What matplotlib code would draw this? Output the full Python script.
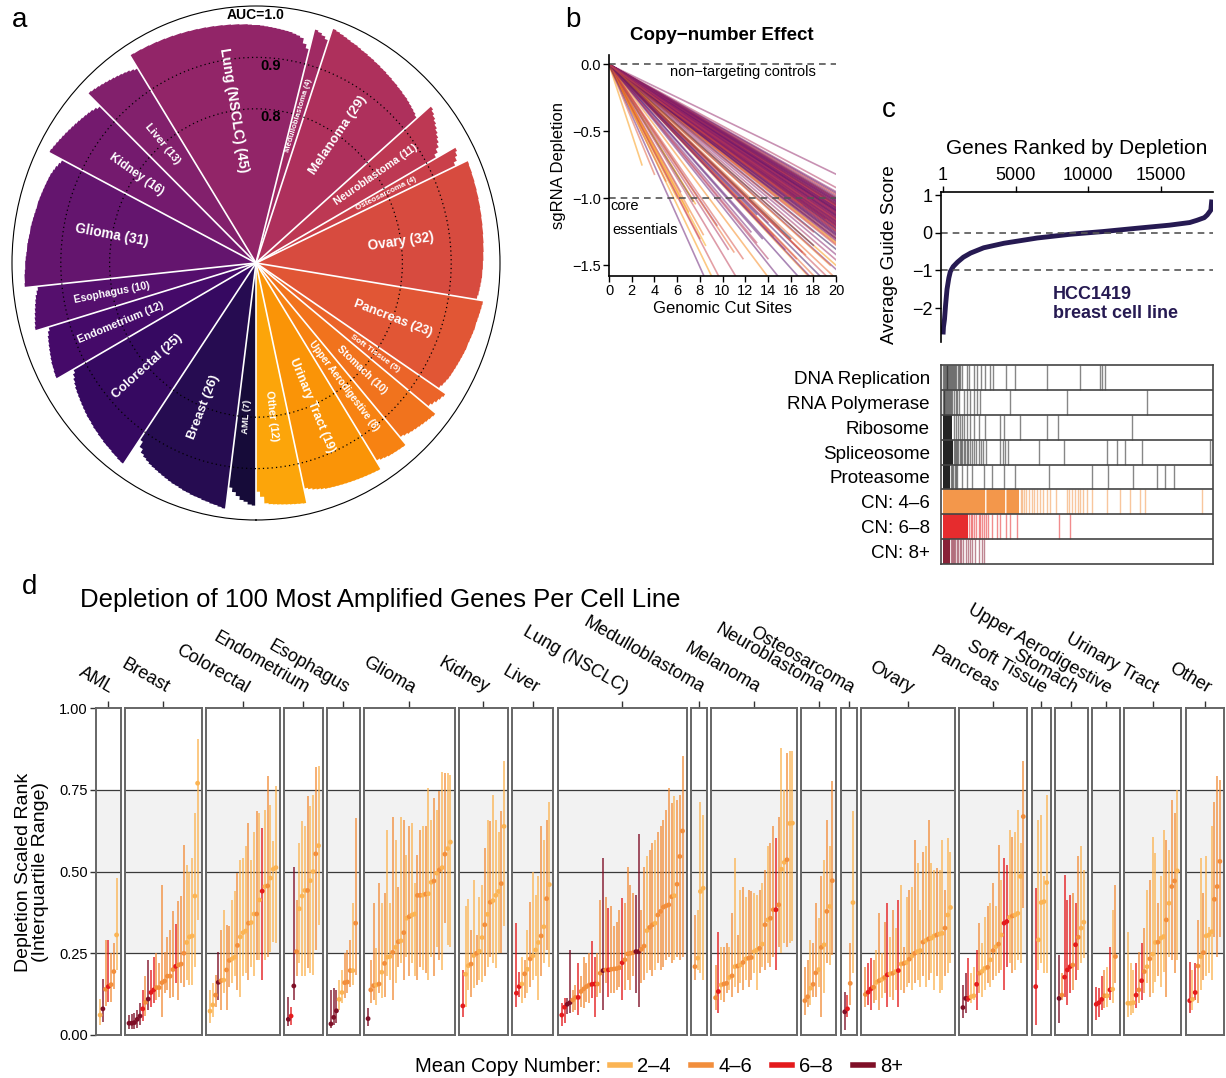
import numpy as np
import matplotlib
matplotlib.use('Agg')
from matplotlib import pyplot as plt
from matplotlib.lines import Line2D

plt.rcParams['font.family'] = ['Liberation Sans', 'DejaVu Sans']
plt.rcParams['axes.unicode_minus'] = True

W, H = 1226, 1078

# ---------------- shared: cancer types ----------------
types = ['AML', 'Breast', 'Colorectal', 'Endometrium', 'Esophagus', 'Glioma', 'Kidney', 'Liver',
         'Lung (NSCLC)', 'Medulloblastoma', 'Melanoma', 'Neuroblastoma', 'Osteosarcoma', 'Ovary',
         'Pancreas', 'Soft Tissue', 'Stomach', 'Upper Aerodigestive', 'Urinary Tract', 'Other']
counts = [7, 26, 25, 12, 10, 31, 16, 13, 45, 4, 29, 11, 4, 32, 23, 5, 10, 8, 19, 12]

# ---------------- panel a: AUC per cell line (sorted within type) ----------------
auc_aml = [.972, .97, .965, .962, .955, .948, .94]
auc_breast = [.982, .98, .978, .977, .975, .974, .972, .971, .97, .968, .967, .965, .963, .962, .96,
              .958, .956, .954, .952, .95, .948, .945, .942, .938, .93, .918]
auc_colorectal = [.976, .975, .973, .972, .97, .969, .968, .966, .965, .963, .962, .96, .958, .957,
                  .955, .953, .951, .949, .947, .945, .943, .94, .937, .933, .928]
auc_endometrium = [.966, .965, .963, .962, .96, .958, .956, .954, .952, .95, .947, .943]
auc_esophagus = [.97, .968, .966, .964, .962, .96, .958, .956, .953, .95]
auc_glioma = [.976, .975, .975, .974, .973, .973, .972, .971, .97, .97, .969, .968, .967, .967, .966,
              .965, .964, .963, .962, .962, .961, .96, .959, .958, .957, .956, .955, .953, .951, .948, .945]
auc_kidney = [.975, .973, .971, .969, .967, .965, .963, .961, .959, .957, .955, .953, .951, .949, .946, .942]
auc_liver = [.976, .974, .972, .97, .968, .966, .964, .962, .96, .958, .956, .953, .95]
auc_lung = [.979, .978, .978, .977, .977, .976, .976, .975, .975, .974, .974, .973, .973, .972, .972,
            .971, .971, .97, .97, .969, .969, .968, .968, .967, .967, .966, .966, .965, .965, .964,
            .963, .963, .962, .961, .96, .959, .958, .957, .956, .955, .953, .951, .948, .938, .93]
auc_medullo = [.97, .967, .963, .958]
auc_melanoma = [.982, .98, .978, .976, .974, .972, .971, .969, .967, .966, .964, .963, .961, .96, .958,
                .957, .955, .954, .952, .951, .949, .948, .946, .945, .943, .941, .939, .937, .934]
auc_neuro = [.97, .966, .962, .958, .954, .95, .946, .942, .937, .93, .922]
auc_osteo = [.966, .962, .957, .95]
auc_ovary = [.977, .976, .976, .975, .975, .974, .974, .973, .973, .972, .972, .971, .971, .97, .97,
             .969, .969, .968, .968, .967, .967, .966, .966, .965, .965, .964, .964, .963, .962, .961, .96, .958]
auc_pancreas = [.971, .97, .969, .968, .967, .966, .966, .965, .964, .963, .962, .962, .961, .96, .959,
                .958, .957, .956, .955, .954, .952, .95, .947]
auc_soft = [.964, .961, .958, .954, .95]
auc_stomach = [.97, .968, .966, .964, .962, .96, .958, .956, .953, .95]
auc_upper = [.968, .967, .966, .965, .964, .962, .96, .957]
auc_urinary = [.975, .974, .973, .972, .971, .97, .969, .968, .967, .966, .965, .964, .963, .962, .96,
               .958, .956, .953, .95]
auc_other = [.978, .977, .976, .975, .974, .973, .972, .971, .97, .968, .955, .945]
auc_all = [auc_aml, auc_breast, auc_colorectal, auc_endometrium, auc_esophagus, auc_glioma, auc_kidney,
           auc_liver, auc_lung, auc_medullo, auc_melanoma, auc_neuro, auc_osteo, auc_ovary, auc_pancreas,
           auc_soft, auc_stomach, auc_upper, auc_urinary, auc_other]

# ---------------- panel b: depletion vs cut sites (line end points) ----------------
b_x_end = [20] * 105 + [2.9, 4.0, 5.0, 6.0, 6.3, 7.0, 7.4, 7.6, 8.0, 8.3,
                        8.5, 9.5, 10.5, 11.0, 11.8, 12.5, 13.0, 13.5, 14.0, 14.5,
                        15.0, 15.5, 16.0, 16.5, 17.0, 17.3, 18.0, 19.0, 19.5, 12.0,
                        11.0, 10.0, 9.0, 16.0, 15.0, 14.0, 13.0, 18.0, 19.0, 17.0]
b_y_end = [-0.82, -0.92, -0.97, -0.99, -1.0, -1.01, -1.02, -1.03, -1.04, -1.05,
           -1.05, -1.06, -1.07, -1.08, -1.08, -1.09, -1.1, -1.1, -1.11, -1.12,
           -1.13, -1.14, -1.15, -1.16, -1.17, -1.18, -1.19, -1.2, -1.21, -1.22,
           -1.23, -1.24, -1.25, -1.27, -1.28, -1.3, -1.32, -1.33, -1.35, -1.46,
           -1.53, -1.6, -1.7, -1.8, -1.9,
           -0.95, -0.96, -0.98, -1.0, -1.01, -1.02, -1.03, -1.04, -1.05, -1.06,
           -1.06, -1.07, -1.08, -1.09, -1.1, -1.11, -1.12, -1.12, -1.13, -1.14,
           -1.15, -1.16, -1.17, -1.18, -1.19, -1.2, -1.21, -1.22, -1.23, -1.24,
           -1.26, -1.27, -1.29, -1.31, -1.34, -1.38, -1.42, -1.5, -1.65, -1.75,
           -1.04, -1.08, -1.1, -1.13, -1.15, -1.17, -1.19, -1.21, -1.25, -1.3,
           -1.0, -1.02, -1.05, -1.07, -1.09, -1.11, -1.14, -1.16, -1.18, -1.2,
           -0.75, -0.82, -0.87, -1.0, -0.95, -1.1, -1.02, -1.04, -1.3, -1.27,
           -1.35, -1.2, -1.38, -1.4, -1.45, -1.25, -1.33, -1.3, -1.45, -1.28,
           -1.7, -1.38, -1.7, -1.45, -1.4, -1.42, -1.35, -1.7, -1.5, -1.7,
           -1.8, -1.75, -1.7, -1.3, -1.22, -1.18, -1.12, -1.25, -1.15, -1.05]
b_type = [8, 10, 13, 3, 17, 5, 8, 1, 14, 19, 6, 10, 2, 8, 12, 15, 4, 8, 9, 13,
          0, 10, 6, 14, 2, 8, 18, 11, 5, 13, 1, 16, 7, 10, 3, 14, 8, 19, 12, 9,
          6, 15, 2, 17, 4,
          8, 5, 10, 6, 7, 9, 8, 11, 5, 10, 13, 6, 8, 3, 7, 10, 9, 5, 8, 11,
          6, 10, 8, 4, 7, 9, 13, 5, 8, 10, 2, 6, 11, 8, 14, 1, 7, 18, 12, 15,
          5, 8, 10, 6, 9, 7, 8, 11, 10, 3, 8, 6, 10, 7, 5, 9, 8, 11, 10, 6,
          18, 14, 12, 19, 10, 17, 0, 18, 13, 16, 19, 8, 10, 15, 13, 6, 11, 4, 10, 14,
          17, 8, 5, 13, 9, 15, 2, 6, 16, 11, 12, 18, 5, 0, 14, 10, 3, 12, 7, 13]

# ---------------- panel c: ranked guide scores and gene-set barcodes ----------------
c_rank = [1, 30, 100, 180, 275, 400, 505, 700, 1000, 1400, 1900, 2800, 4200, 6500, 8800, 11000,
          13400, 15600, 17000, 17500, 18000, 18200, 18450, 18520]
c_score = [-2.7, -2.5, -2.3, -1.9, -1.5, -1.2, -1.03, -0.9, -0.78, -0.65, -0.54, -0.4, -0.28, -0.14,
           -0.04, 0.03, 0.12, 0.2, 0.27, 0.33, 0.4, 0.47, 0.6, 0.88]

track_names = ['DNA Replication', 'RNA Polymerase', 'Ribosome', 'Spliceosome', 'Proteasome',
               'CN: 4–6', 'CN: 6–8', 'CN: 8+']
dna_spans = []
dna_hits = [10, 60, 120, 180, 240, 300, 350, 420, 480, 560, 640, 700, 780, 850, 920, 1000, 1100, 1200,
            1300, 1650, 1810, 2110, 2340, 2610, 2910, 3260, 3440, 4340, 4980, 7160, 9450, 10830, 10940, 11130]
rnapol_spans = []
rnapol_hits = [0, 40, 90, 150, 200, 260, 330, 400, 470, 560, 650, 740, 860, 980, 1100, 1420, 1650, 1880,
               2160, 2340, 2570, 4630, 8540, 14040]
ribo_spans = [(0, 650)]
ribo_hits = [730, 870, 1010, 1150, 1310, 1470, 1650, 1880, 2160, 2450, 2910, 3950, 4180, 5320, 7160,
             7890, 13010]
splice_spans = [(0, 700)]
splice_hits = [760, 830, 900, 980, 1060, 1140, 1230, 1320, 1420, 1520, 1620, 1720, 1850, 2000, 2150,
               2300, 2450, 2600, 2750, 2950, 3950, 4110, 4290, 4450, 6590, 8310, 11290, 11980, 12550,
               13700, 18360]
prot_spans = [(0, 480)]
prot_hits = [560, 640, 720, 800, 900, 970, 1310, 1650, 2000, 2800, 3370, 4180, 4980, 7270, 10260,
             11400, 13120, 14730, 15300, 15880]
cn46_spans = [(0, 2900), (3000, 4300), (4420, 5250)]
cn46_hits = [2950, 4360, 5350, 5450, 5550, 5700, 5900, 6100, 6300, 6500, 6650, 6900, 7150, 7400,
             7800, 8550, 8700, 8900, 9100, 9300, 9450, 9650, 9900, 10250, 11290, 12200, 12900, 13580,
             13930, 17830]
cn68_spans = [(0, 1700)]
cn68_hits = [1800, 1900, 2000, 2100, 2250, 2450, 2570, 2700, 2800, 2950, 3100, 3400, 3700, 3950, 4330,
             4630, 5100, 7960, 8760]
cn8_spans = [(0, 450)]
cn8_hits = [520, 600, 680, 760, 850, 950, 1050, 1150, 1250, 1400, 1550, 1700, 1850, 2000, 2200, 2450,
            2700, 2850]

# ---------------- panel d: scaled rank (median, IQR) and copy-number class ----------------
# cn class: 1 = 2-4, 2 = 4-6, 3 = 6-8, 4 = 8+
aml_med = [.061, .08, .14, .148, .154, .194, .306]
aml_lo = [.03, .04, .09, .10, .10, .14, .20]
aml_hi = [.11, .17, .29, .29, .25, .28, .48]
aml_cn = '1423221'
breast_med = [.036, .036, .038, .048, .058, .08, .10, .11, .13, .138, .145, .145, .16, .165, .18, .18,
              .20, .21, .214, .217, .25, .283, .30, .303, .425, .77]
breast_lo = [.017, .017, .017, .02, .03, .044, .058, .077, .087, .097, .107, .117, .056, .128, .138,
             .112, .117, .158, .107, .158, .148, .168, .153, .153, .209, .352]
breast_hi = [.06, .063, .066, .077, .097, .138, .18, .23, .20, .24, .25, .22, .46, .255, .30, .32, .38,
             .34, .41, .425, .58, .52, .50, .54, .68, .905]
breast_cn = '44444324332222222322211111'
colorectal_med = [.073, .092, .122, .161, .166, .168, .199, .228, .233, .238, .274, .30, .313, .318,
                  .342, .344, .37, .37, .413, .44, .454, .456, .48, .507, .512]
colorectal_lo = [.036, .056, .087, .107, .077, .128, .077, .148, .158, .179, .138, .117, .179, .189,
                 .168, .209, .179, .23, .23, .168, .23, .24, .255, .283, .281]
colorectal_hi = [.138, .158, .184, .255, .32, .383, .337, .332, .413, .439, .495, .536, .541, .577,
                 .648, .536, .622, .684, .679, .633, .689, .793, .704, .592, .762]
colorectal_cn = '1124212211211121121312111'
endometrium_med = [.048, .058, .15, .255, .386, .425, .442, .442, .472, .50, .554, .579]
endometrium_lo = [.026, .031, .107, .179, .219, .179, .179, .204, .189, .184, .26, .337]
endometrium_hi = [.117, .087, .515, .413, .587, .653, .638, .73, .699, .735, .821, .823]
endometrium_cn = '434211121121'
esophagus_med = [.034, .054, .074, .109, .13, .16, .162, .197, .197, .342]
esophagus_lo = [.02, .031, .036, .077, .097, .112, .128, .148, .153, .184]
esophagus_hi = [.138, .143, .138, .168, .199, .25, .26, .291, .403, .663]
esophagus_cn = '4441122212'
glioma_med = [.05, .138, .151, .153, .156, .192, .219, .238, .24, .253, .268, .285, .288, .313, .357,
              .362, .367, .37, .427, .427, .428, .431, .432, .467, .471, .495, .505, .512, .553, .57, .59]
glioma_lo = [.026, .097, .107, .092, .128, .112, .117, .179, .168, .107, .158, .209, .219, .168, .24,
             .179, .219, .179, .168, .209, .199, .189, .168, .24, .179, .27, .23, .199, .342, .276, .27]
glioma_hi = [.082, .23, .403, .265, .464, .403, .434, .628, .403, .668, .597, .454, .668, .658, .551,
             .638, .648, .464, .551, .628, .638, .64, .755, .658, .724, .689, .745, .803, .801, .801, .796]
glioma_cn = '4221212112121212112212112121211'
kidney_med = [.089, .186, .212, .217, .243, .25, .256, .298, .337, .369, .406, .411, .427, .439, .463, .638]
kidney_lo = [.054, .087, .138, .117, .143, .153, .168, .163, .179, .209, .24, .219, .204, .25, .25, .332]
kidney_hi = [.199, .393, .415, .321, .474, .306, .423, .459, .571, .658, .653, .735, .658, .622, .684, .837]
kidney_cn = '3112121121211121'
liver_med = [.128, .148, .156, .187, .201, .233, .242, .26, .283, .303, .331, .417, .46]
liver_lo = [.087, .117, .097, .112, .128, .148, .168, .179, .107, .179, .219, .26, .209]
liver_hi = [.342, .194, .24, .23, .321, .408, .50, .429, .485, .638, .597, .658, .714]
liver_cn = '3312121112121'
lung_med = [.061, .085, .094, .099, .107, .115, .115, .133, .141, .148, .153, .155, .156, .156, .189,
            .197, .199, .199, .201, .202, .203, .206, .221, .23, .248, .25, .252, .255, .255, .262,
            .272, .319, .329, .337, .342, .367, .378, .391, .395, .398, .423, .426, .461, .546, .624]
lung_lo = [.028, .036, .064, .066, .071, .077, .061, .087, .082, .102, .097, .112, .056, .117, .128,
           .077, .158, .117, .128, .128, .138, .148, .107, .138, .168, .138, .179, .128, .087, .158,
           .168, .189, .199, .179, .199, .219, .199, .209, .23, .24, .219, .23, .24, .23, .24]
lung_hi = [.097, .112, .112, .26, .138, .153, .219, .179, .24, .219, .25, .286, .24, .25, .413,
           .541, .423, .388, .393, .332, .347, .383, .418, .403, .515, .459, .434, .429, .615, .383,
           .515, .546, .566, .587, .597, .622, .638, .658, .689, .755, .709, .73, .719, .735, .854]
lung_cn = '334422322223322423222232222442212212222221222'
medullo_med = [.209, .235, .439, .449]
medullo_lo = [.168, .199, .189, .168]
medullo_hi = [.367, .383, .712, .673]
medullo_cn = '2111'
melanoma_med = [.114, .133, .153, .156, .158, .176, .181, .209, .211, .214, .222, .233, .235, .237,
                .255, .26, .265, .278, .337, .352, .357, .383, .383, .398, .507, .528, .536, .647, .648]
melanoma_lo = [.077, .066, .107, .102, .128, .138, .117, .148, .128, .158, .138, .168, .148, .168,
               .189, .138, .189, .209, .199, .219, .209, .24, .199, .27, .25, .281, .27, .281, .286]
melanoma_hi = [.214, .316, .27, .27, .281, .27, .372, .541, .306, .444, .454, .423, .444, .439, .434,
               .429, .444, .464, .505, .577, .587, .638, .602, .668, .878, .75, .862, .867, .867]
melanoma_cn = '23122121212122112121223211211'
neuro_med = [.105, .117, .143, .155, .19, .2, .268, .276, .378, .393, .472]
neuro_lo = [.061, .087, .092, .117, .117, .148, .056, .128, .219, .214, .245]
neuro_hi = [.209, .23, .291, .281, .403, .357, .485, .536, .658, .577, .776]
neuro_cn = '22122121212'
osteo_med = [.071, .08, .158, .405]
osteo_lo = [.015, .056, .092, .189]
osteo_hi = [.133, .122, .281, .684]
osteo_cn = '4321'
ovary_med = [.124, .131, .141, .146, .161, .166, .17, .176, .184, .187, .189, .194, .197, .217, .219,
             .222, .232, .242, .25, .255, .258, .284, .289, .294, .296, .303, .306, .309, .311, .327, .367, .39]
ovary_lo = [.087, .092, .077, .097, .107, .077, .112, .128, .087, .117, .107, .138, .087, .138, .128,
            .148, .158, .138, .158, .168, .148, .179, .148, .168, .189, .138, .179, .128, .138, .179, .189, .219]
ovary_hi = [.209, .219, .235, .23, .26, .372, .25, .347, .403, .301, .383, .327, .413, .459, .27,
            .423, .444, .454, .597, .526, .383, .561, .577, .658, .526, .505, .51, .505, .597, .444, .602, .561]
ovary_cn = '23321212312131212121121211211211'
pancreas_med = [.084, .112, .112, .117, .12, .155, .189, .195, .204, .207, .23, .258, .27, .278, .306,
                .342, .347, .36, .364, .367, .372, .485, .668]
pancreas_lo = [.051, .066, .102, .097, .107, .077, .128, .117, .138, .158, .148, .168, .179, .189, .199,
               .138, .209, .219, .189, .199, .23, .219, .388]
pancreas_hi = [.153, .189, .235, .189, .209, .26, .342, .281, .362, .393, .403, .464, .393, .582, .474,
               .541, .52, .628, .607, .622, .689, .587, .837]
pancreas_cn = '44311321121212133121112'
soft_med = [.148, .291, .405, .408, .466]
soft_lo = [.031, .199, .219, .189, .189]
soft_hi = [.449, .658, .673, .485, .735]
soft_cn = '31111'
stomach_med = [.112, .122, .177, .199, .209, .214, .276, .299, .327, .345]
stomach_lo = [.036, .107, .117, .092, .128, .138, .168, .199, .219, .235]
stomach_hi = [.245, .189, .49, .413, .429, .434, .403, .546, .577, .505]
stomach_cn = '4233323211'
upper_med = [.094, .099, .109, .12, .12, .138, .14, .24]
upper_lo = [.046, .056, .077, .082, .087, .107, .097, .158]
upper_hi = [.148, .143, .179, .199, .209, .27, .383, .459]
upper_cn = '33321312'
urinary_med = [.097, .097, .099, .122, .138, .166, .194, .209, .233, .247, .283, .284, .296, .301,
               .352, .403, .454, .471, .502]
urinary_lo = [.056, .061, .066, .082, .097, .107, .128, .158, .117, .128, .163, .179, .148, .194,
              .117, .24, .23, .189, .23]
urinary_hi = [.316, .219, .199, .219, .255, .281, .327, .444, .474, .607, .556, .403, .485, .628,
              .597, .566, .719, .679, .75]
urinary_cn = '1113232121121121221'
other_med = [.105, .109, .13, .211, .24, .252, .303, .306, .316, .415, .454, .531]
other_lo = [.066, .077, .107, .097, .138, .168, .179, .189, .168, .301, .24, .301]
other_hi = [.224, .199, .219, .352, .541, .434, .546, .33, .638, .714, .791, .781]
other_cn = '313212111222'

d_med = [aml_med, breast_med, colorectal_med, endometrium_med, esophagus_med, glioma_med, kidney_med,
         liver_med, lung_med, medullo_med, melanoma_med, neuro_med, osteo_med, ovary_med, pancreas_med,
         soft_med, stomach_med, upper_med, urinary_med, other_med]
d_lo = [aml_lo, breast_lo, colorectal_lo, endometrium_lo, esophagus_lo, glioma_lo, kidney_lo, liver_lo,
        lung_lo, medullo_lo, melanoma_lo, neuro_lo, osteo_lo, ovary_lo, pancreas_lo, soft_lo, stomach_lo,
        upper_lo, urinary_lo, other_lo]
d_hi = [aml_hi, breast_hi, colorectal_hi, endometrium_hi, esophagus_hi, glioma_hi, kidney_hi, liver_hi,
        lung_hi, medullo_hi, melanoma_hi, neuro_hi, osteo_hi, ovary_hi, pancreas_hi, soft_hi, stomach_hi,
        upper_hi, urinary_hi, other_hi]
d_cn = [aml_cn, breast_cn, colorectal_cn, endometrium_cn, esophagus_cn, glioma_cn, kidney_cn, liver_cn,
        lung_cn, medullo_cn, melanoma_cn, neuro_cn, osteo_cn, ovary_cn, pancreas_cn, soft_cn, stomach_cn,
        upper_cn, urinary_cn, other_cn]
cn_labels = ['2–4', '4–6', '6–8', '8+']

# ---------------- styles ----------------
type_colors = plt.cm.inferno(np.linspace(0.1, 0.8, len(types)))
cn_colors = ['#fbb454', '#f28e3c', '#e41a1c', '#7f0f27']
navy = '#261a52'


def fx(px):
    return px / W


def fy(py):
    return 1 - py / H


def draw_polar(fig):
    ax = fig.add_axes([fx(12), fy(520), fx(488), 514 / H], projection='polar')
    ax.set_theta_zero_location('S')
    ax.set_theta_direction(-1)
    step = 2 * np.pi / sum(counts)
    start = 0.0
    for i, vals in enumerate(auc_all):
        n = len(vals)
        # one stepped polygon per cancer type: centre -> bar tops -> centre
        th = [start]
        rr = [0.5]
        for j, v in enumerate(vals):
            th += [start + step * j, start + step * (j + 1)]
            rr += [v, v]
        th.append(start + step * n)
        rr.append(0.5)
        ax.fill(th, rr, color=type_colors[i], lw=0, zorder=1)
        mid = start + step * n / 2
        screen = -90 - np.degrees(mid)
        rot = (screen + 90) % 180 - 90
        size = np.clip(2.9 + 2.0 * np.log(n), 5.4, 10.2)
        ax.text(mid, 0.8, f'{types[i]} ({n})', rotation=rot, rotation_mode='anchor',
                ha='center', va='center', color='white', fontweight='bold', fontsize=size, zorder=4)
        ax.plot([start, start], [0.5, 0.995], color='white', lw=1.2, zorder=2)
        start += step * n
    ax.set_ylim(0.5, 1.0)
    ax.set_aspect('auto')
    ax.set_xticks([])
    ax.set_yticks([0.8, 0.9])
    ax.set_yticklabels([])
    ax.set_axisbelow(False)
    ax.yaxis.grid(True, color='black', linestyle=(0, (1, 2.5)), linewidth=0.9)
    ax.xaxis.grid(False)
    ax.spines['polar'].set_linewidth(0.8)
    ax.text(np.pi, 0.982, 'AUC=1.0', ha='center', va='center', fontweight='bold', fontsize=10)
    ax.text(np.radians(184.5), 0.885, '0.9', ha='center', va='center', fontsize=10.5, fontweight='bold')
    ax.text(np.radians(186), 0.785, '0.8', ha='center', va='center', fontsize=10.5, fontweight='bold')


def draw_lines(fig):
    ax = fig.add_axes([fx(609), fy(276), 227 / W, 221 / H])
    for xe, ye, t in zip(b_x_end, b_y_end, b_type):
        ax.plot([0, xe], [0, ye], color=type_colors[t], alpha=0.5, lw=1.2)
    ax.axhline(0, color='#555555', ls=(0, (4, 3)), lw=1.2)
    ax.axhline(-1, color='#555555', ls=(0, (4, 3)), lw=1.2)
    ax.set_xlim(0, 20)
    ax.set_ylim(-1.58, 0.07)
    ax.set_xticks(range(0, 21, 2))
    ax.set_yticks([0, -0.5, -1.0, -1.5])
    ax.set_yticklabels(['0.0', '−0.5', '−1.0', '−1.5'])
    ax.tick_params(labelsize=10.5, length=4, width=1, pad=2)
    for s in ['top', 'right']:
        ax.spines[s].set_visible(False)
    for s in ['left', 'bottom']:
        ax.spines[s].set_linewidth(1.2)
    ax.set_xlabel('Genomic Cut Sites', fontsize=12, labelpad=2)
    ax.set_ylabel('sgRNA Depletion', fontsize=12, labelpad=4)
    ax.text(5.35, -0.055, 'non−targeting controls', ha='left', va='center', fontsize=10.5)
    ax.text(0.15, -1.06, 'core', ha='left', va='center', fontsize=10.5)
    ax.text(0.3, -1.235, 'essentials', ha='left', va='center', fontsize=10.5)
    fig.text(fx(722), fy(36), 'Copy−number Effect', ha='center', va='center',
             fontsize=13.5, fontweight='bold')


def draw_rank(fig):
    ax = fig.add_axes([fx(941), fy(342), 272 / W, 150 / H])
    ax.plot(c_rank, c_score, color=navy, lw=3.5, solid_capstyle='butt')
    ax.axhline(0, color='#555555', ls=(0, (4, 3)), lw=1.2)
    ax.axhline(-1, color='#555555', ls=(0, (4, 3)), lw=1.2)
    ax.set_xlim(-140, 18600)
    ax.set_ylim(-2.9, 1.08)
    ax.xaxis.tick_top()
    ax.set_xticks([1, 5000, 10000, 15000])
    ax.set_yticks([1, 0, -1, -2])
    ax.set_yticklabels(['1', '0', '−1', '−2'])
    ax.tick_params(labelsize=13, length=4, width=1, pad=2)
    for s in ['bottom', 'right']:
        ax.spines[s].set_visible(False)
    for s in ['left', 'top']:
        ax.spines[s].set_linewidth(1.2)
    ax.text(7570, -1.9, 'HCC1419\nbreast cell line', ha='left', va='center', fontsize=13,
            fontweight='bold', color=navy, linespacing=1.15)
    fig.text(fx(1077), fy(149), 'Genes Ranked by Depletion', ha='center', va='center', fontsize=15)
    fig.text(fx(890), fy(255), 'Average Guide Score', ha='center', va='center', rotation=90, fontsize=13.5)

    axt = fig.add_axes([fx(941), fy(564), 272 / W, 199 / H])
    tracks = [(dna_spans, dna_hits, '#111111'), (rnapol_spans, rnapol_hits, '#111111'),
              (ribo_spans, ribo_hits, '#111111'), (splice_spans, splice_hits, '#111111'),
              (prot_spans, prot_hits, '#111111'), (cn46_spans, cn46_hits, cn_colors[1]),
              (cn68_spans, cn68_hits, cn_colors[2]), (cn8_spans, cn8_hits, cn_colors[3])]
    for k, (spans, hits, col) in enumerate(tracks):
        y0 = 7 - k
        if spans:
            axt.broken_barh([(s, e - s) for s, e in spans], (y0, 1), facecolors=col, alpha=0.92, lw=0)
        axt.vlines(hits, y0, y0 + 1, colors=col, lw=1.0, alpha=0.5)
    for y in range(1, 8):
        axt.axhline(y, color='#444444', lw=1.2)
    axt.set_xlim(-140, 18600)
    axt.set_ylim(0, 8)
    axt.set_xticks([])
    axt.set_yticks([7.5 - k for k in range(8)])
    axt.set_yticklabels(track_names, fontsize=13.5)
    axt.tick_params(axis='y', length=0, pad=8)
    for s in axt.spines.values():
        s.set_color('#444444')
        s.set_linewidth(1.2)


def draw_facets(fig):
    gs = fig.add_gridspec(1, len(types), left=fx(96), right=fx(1224), bottom=fy(1035), top=fy(708),
                          width_ratios=[n + 2 for n in counts], wspace=0.08)
    for i, name in enumerate(types):
        ax = fig.add_subplot(gs[0, i])
        n = len(d_med[i])
        x = np.arange(1, n + 1)
        cols = [cn_colors[int(c) - 1] for c in d_cn[i]]
        ax.axhspan(0.25, 0.75, color='#f2f2f2', zorder=0, lw=0)
        for yv in (0.25, 0.5, 0.75):
            ax.axhline(yv, color='#3a3a3a', lw=0.9, zorder=1)
        ax.vlines(x, d_lo[i], d_hi[i], colors=cols, lw=1.3, alpha=0.78, zorder=2)
        ax.scatter(x, d_med[i], s=12, c=cols, zorder=3, linewidths=0)
        ax.set_xlim(-0.5, n + 1.5)
        ax.set_ylim(0, 1)
        ax.set_xticks([(n + 1) / 2])
        ax.set_xticklabels([name], rotation=-30, ha='right', va='bottom', rotation_mode='anchor',
                           fontsize=13)
        ax.tick_params(axis='x', top=True, bottom=False, labeltop=True, labelbottom=False,
                       length=5, width=1, pad=3, color='#333333')
        if i == 0:
            ax.set_yticks([0, 0.25, 0.5, 0.75, 1.0])
            ax.set_yticklabels(['0.00', '0.25', '0.50', '0.75', '1.00'])
            ax.tick_params(axis='y', labelsize=10.5, length=4, width=1, pad=2, color='#333333')
        else:
            ax.set_yticks([])
        for s in ax.spines.values():
            s.set_color('#666666')
            s.set_linewidth(1.4)
    fig.text(fx(80), fy(600), 'Depletion of 100 Most Amplified Genes Per Cell Line', ha='left',
             va='center', fontsize=18.5)
    fig.text(fx(32), fy(872), 'Depletion Scaled Rank\n(Interquartile Range)', ha='center', va='center',
             rotation=90, fontsize=14, linespacing=1.05)
    fig.text(fx(601), fy(1067), 'Mean Copy Number:', ha='right', va='center', fontsize=14.5)
    handles = [Line2D([0], [0], color=c, lw=4) for c in cn_colors]
    fig.legend(handles, cn_labels, loc='center left', bbox_to_anchor=(fx(610), fy(1067)), ncol=4,
               frameon=False, fontsize=14.5, handlelength=1.0, handletextpad=0.35, columnspacing=1.0,
               borderpad=0, borderaxespad=0)


def main():
    fig = plt.figure(figsize=(W / 100, H / 100), dpi=100)
    draw_polar(fig)
    draw_lines(fig)
    draw_rank(fig)
    draw_facets(fig)
    for lab, px, py in [('a', 20, 20), ('b', 573, 20), ('c', 889, 110), ('d', 30, 587)]:
        fig.text(fx(px), fy(py), lab, ha='center', va='center', fontsize=20)
    fig.savefig('out.png', dpi=100)


main()
